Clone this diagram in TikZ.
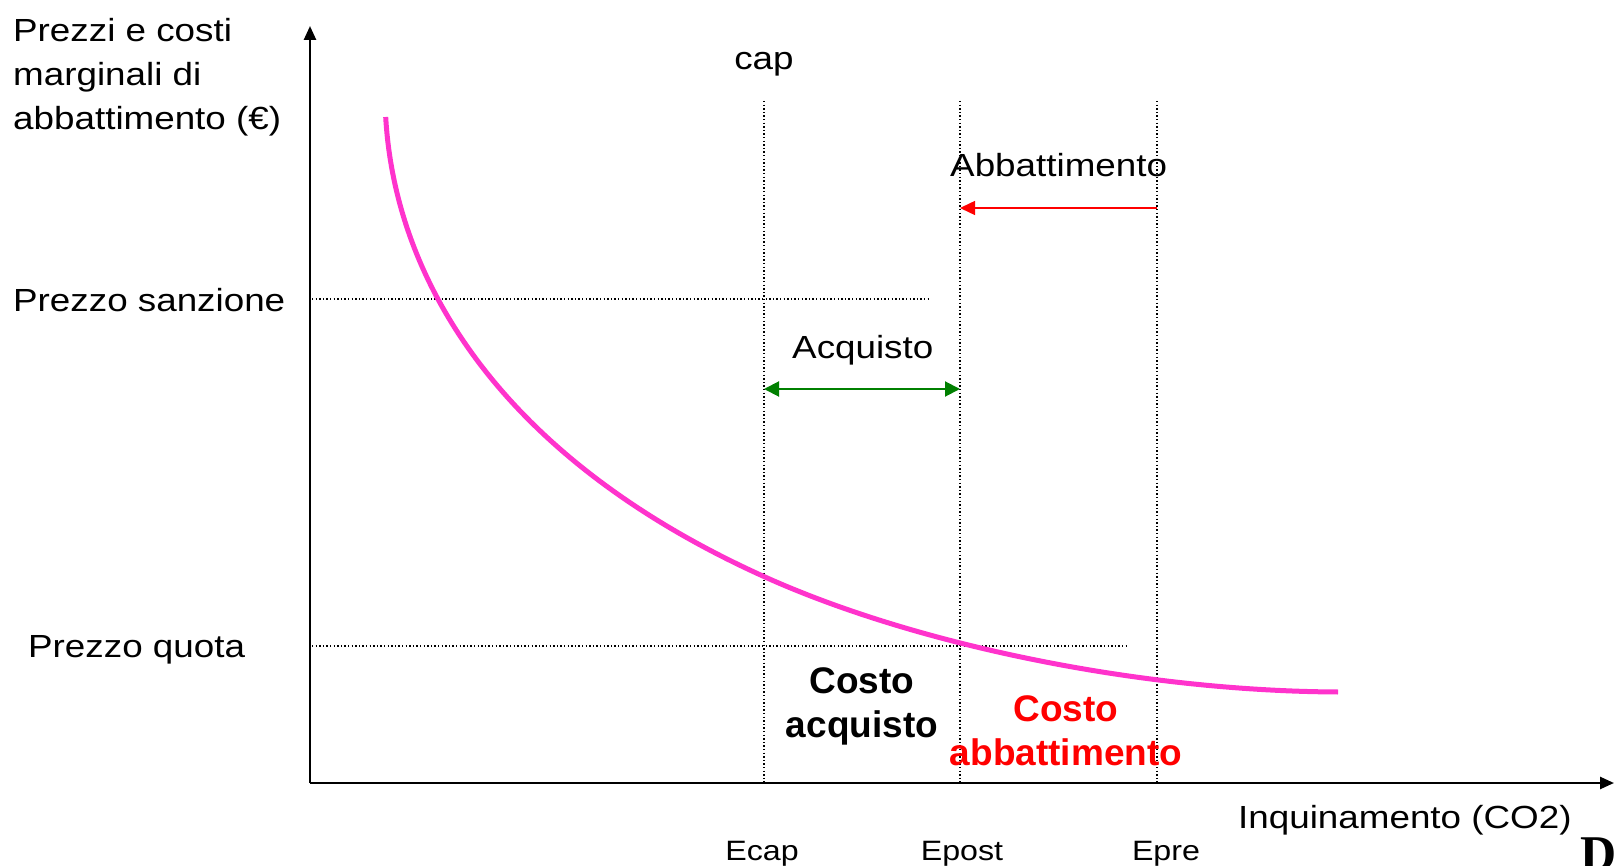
\documentclass[tikz,border=0pt]{standalone}
\usepackage{fontspec}
\setmainfont{Liberation Sans}
\newfontfamily\widefont[FakeStretch=1.15]{Liberation Sans}
\newfontfamily\dserif{Liberation Serif}
\usetikzlibrary{arrows.meta}
\definecolor{curvepink}{RGB}{255,51,204}
\definecolor{arrgreen}{RGB}{0,128,0}
\definecolor{arrred}{RGB}{255,0,0}
\begin{document}
\begin{tikzpicture}[x=1pt,y=-1pt,
  lbl/.style={font=\widefont\fontsize{32}{44}\selectfont, inner sep=0pt},
  elbl/.style={font=\widefont\fontsize{28}{30}\selectfont, inner sep=0pt},
  costlbl/.style={font=\bfseries\fontsize{37}{44}\selectfont, inner sep=0pt, align=center},
  axisline/.style={line width=2.5pt, -{Triangle[width=12pt,length=14pt]}},
  guide/.style={line width=1.4pt, dash pattern=on 1.4pt off 2.2pt},
  redarrow/.style={draw=arrred, line width=1.5pt, -{Triangle[width=14pt,length=15pt]}},
  greenarrow/.style={draw=arrgreen, line width=2pt, {Triangle[width=15pt,length=15pt]}-{Triangle[width=15pt,length=15pt]}},
  mcurve/.style={draw=curvepink, line width=5pt}
]
\useasboundingbox (0,0) rectangle (1615,866);

% axes
\coordinate (origin) at (310,783);
\coordinate (ytop) at (310,26);
\coordinate (xend) at (1614,783);
\draw[axisline] (origin) -- (ytop);
\draw[axisline] (origin) -- (xend);

% guide lines
\coordinate (capT) at (764,101);  \coordinate (capB) at (764,783);
\coordinate (postT) at (960,101); \coordinate (postB) at (960,783);
\coordinate (preT) at (1157,101); \coordinate (preB) at (1157,783);
\draw[guide] (capT) -- (capB);
\draw[guide] (postT) -- (postB);
\draw[guide] (preT) -- (preB);
\coordinate (sanzL) at (312,299); \coordinate (sanzR) at (930,299);
\coordinate (quotaL) at (312,646); \coordinate (quotaR) at (1127,646);
\draw[guide] (sanzL) -- (sanzR);
\draw[guide] (quotaL) -- (quotaR);

% curve
\coordinate (cstart) at (385.7,117);
\coordinate (cmid) at (765,577);
\coordinate (cend) at (1338,692);
\draw[mcurve] (cstart) .. controls (395,280) and (500,457.75) .. (cmid)
                       .. controls (915,644.5) and (1138,691) .. (cend);

% arrows
\coordinate (abbR) at (1157,208); \coordinate (abbL) at (960,208);
\draw[redarrow] (abbR) -- (abbL);
\coordinate (acqL) at (764,389); \coordinate (acqR) at (960,389);
\draw[greenarrow] (acqL) -- (acqR);

% labels
\node[lbl, align=left, anchor=base west] (ylab) at (13,130) {Prezzi e costi\\marginali di\\abbattimento (€)};
\node[lbl, anchor=base west] (sanz) at (13,312) {Prezzo sanzione};
\node[lbl, anchor=base west] (quota) at (28,657) {Prezzo quota};
\node[lbl, anchor=base] (cap) at (764,70) {cap};
\node[lbl, anchor=base west] (abbt) at (950,177) {Abbattimento};
\node[lbl, anchor=base west] (acqt) at (792,359) {Acquisto};
\node[costlbl, anchor=base] (costacq) at (862,737) {Costo\\acquisto};
\node[costlbl, text=arrred, anchor=base] (costabb) at (1066,765) {Costo\\abbattimento};
\node[lbl, anchor=base west] (xlab) at (1238,828) {Inquinamento (CO2)};
\node[elbl, anchor=base] (ecap) at (762,860) {Ecap};
\node[elbl, anchor=base] (epost) at (962,860) {Epost};
\node[elbl, anchor=base] (epre) at (1166,860) {Epre};
\node[inner sep=0pt, anchor=north west, font=\dserif\bfseries\fontsize{50}{50}\selectfont] (dglyph) at (1580,838) {D};
\end{tikzpicture}
\end{document}
